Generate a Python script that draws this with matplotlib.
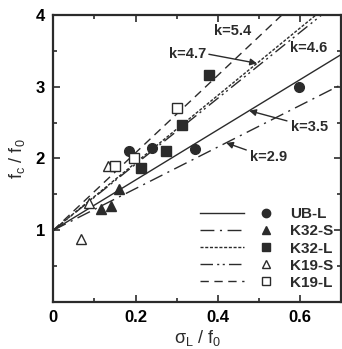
import matplotlib
matplotlib.use("Agg")
import matplotlib.pyplot as plt
import numpy as np
from matplotlib.legend_handler import HandlerTuple
from matplotlib.lines import Line2D

plt.rcParams['font.family'] = ['Liberation Sans', 'DejaVu Sans']
plt.rcParams['mathtext.fontset'] = 'custom'
plt.rcParams['mathtext.rm'] = 'Liberation Sans'

# ---- data ----
series = ["UB-L", "K32-S", "K32-L", "K19-S", "K19-L"]
k_values = [3.5, 2.9, 4.7, 4.6, 5.4]

ubl_x = [0.185, 0.24, 0.344, 0.597]
ubl_y = [2.10, 2.14, 2.13, 2.99]
k32s_x = [0.117, 0.139, 0.16]
k32s_y = [1.29, 1.33, 1.57]
k32l_x = [0.213, 0.274, 0.313, 0.378]
k32l_y = [1.86, 2.11, 2.46, 3.16]
k19s_x = [0.066, 0.086, 0.132]
k19s_y = [0.87, 1.38, 1.90]
k19l_x = [0.151, 0.197, 0.301]
k19l_y = [1.90, 2.00, 2.70]

xs_all = [ubl_x, k32s_x, k32l_x, k19s_x, k19l_x]
ys_all = [ubl_y, k32s_y, k32l_y, k19s_y, k19l_y]

xticks = [0, 0.2, 0.4, 0.6]
xticklabels = ["0", "0.2", "0.4", "0.6"]
yticks = [1, 2, 3, 4]
yticklabels = ["1", "2", "3", "4"]

# ---- style ----
dark = "#2b2b2b"
linestyles = ["-", (0, (10, 4, 1.5, 4)), (0, (2.2, 1.2)),
              (0, (9, 3, 1.5, 2.5, 1.5, 3)), (0, (6, 4))]
markers = ["o", "^", "s", "^", "s"]
filled = [True, True, True, False, False]

fig = plt.figure(figsize=(3.42, 3.49), dpi=100)
ax = fig.add_axes([0.156, 0.135, 0.842, 0.822])

xl = np.linspace(0, 0.7, 50)
handles = []
for i, name in enumerate(series):
    ln, = ax.plot(xl, 1 + k_values[i] * xl, color=dark, lw=1.0,
                  linestyle=linestyles[i])
    mk, = ax.plot(xs_all[i], ys_all[i], linestyle="none", marker=markers[i],
                  ms=6.5 if markers[i] != "o" else 7,
                  markerfacecolor=dark if filled[i] else "white",
                  markeredgecolor=dark, markeredgewidth=1.0)
    handles.append((Line2D([], [], color=dark, lw=1.0, linestyle=linestyles[i]),
                    Line2D([], [], linestyle="none", marker=markers[i], ms=6,
                           markerfacecolor=dark if filled[i] else "white",
                           markeredgecolor=dark, markeredgewidth=1.0)))

ax.set_xlim(0, 0.7)
ax.set_ylim(0, 4)
ax.set_xticks(xticks)
ax.set_xticklabels(xticklabels, fontweight="bold", fontsize=12)
ax.set_yticks(yticks)
ax.set_yticklabels(yticklabels, fontweight="bold", fontsize=12)
ax.set_xticks([0.1, 0.3, 0.5], minor=True)
ax.set_yticks([0.5, 1.5, 2.5, 3.5], minor=True)
ax.tick_params(which="both", direction="in", top=True, right=True, width=1.2,
               color=dark)
ax.tick_params(which="major", length=5, pad=6)
ax.tick_params(which="minor", length=3)
for s in ax.spines.values():
    s.set_linewidth(1.6)
    s.set_color(dark)

ax.set_xlabel(r"σ$_\mathregular{L}$ / f$_\mathregular{0}$", fontsize=13, color=dark, labelpad=2)
ax.set_ylabel(r"f$_\mathregular{c}$ / f$_\mathregular{0}$", fontsize=13, color=dark, labelpad=6)

fs = 10.5
akw = dict(fontsize=fs, fontweight="bold", color=dark, ha="center", va="center")
ax.text(0.437, 3.78, "k=5.4", **akw)
ax.text(0.621, 3.54, "k=4.6", **akw)
ax.annotate("k=4.7", xy=(0.495, 1 + 4.7 * 0.495), xytext=(0.326, 3.46),
            arrowprops=dict(arrowstyle="-|>", color=dark, lw=1.0,
                            relpos=(1.0, 0.5), shrinkA=0, shrinkB=0,
                            mutation_scale=10), **akw)
ax.annotate("k=3.5", xy=(0.476, 1 + 3.5 * 0.476), xytext=(0.623, 2.44),
            arrowprops=dict(arrowstyle="-|>", color=dark, lw=1.0,
                            relpos=(0.0, 0.85), shrinkA=1, shrinkB=0,
                            mutation_scale=10), **akw)
ax.annotate("k=2.9", xy=(0.42, 1 + 2.9 * 0.42), xytext=(0.524, 2.02),
            arrowprops=dict(arrowstyle="-|>", color=dark, lw=1.0,
                            relpos=(0.0, 0.9), shrinkA=1, shrinkB=0,
                            mutation_scale=10), **akw)

leg = ax.legend(handles, series, loc="lower right",
                handler_map={tuple: HandlerTuple(ndivide=None, pad=0.0)},
                handlelength=5.8, frameon=False, fontsize=11,
                labelspacing=0.2, handletextpad=0.1, borderaxespad=0.4,
                bbox_to_anchor=(1.015, 0.0))
for t in leg.get_texts():
    t.set_fontweight("bold")
    t.set_color(dark)

fig.savefig("out.png", dpi=100)
